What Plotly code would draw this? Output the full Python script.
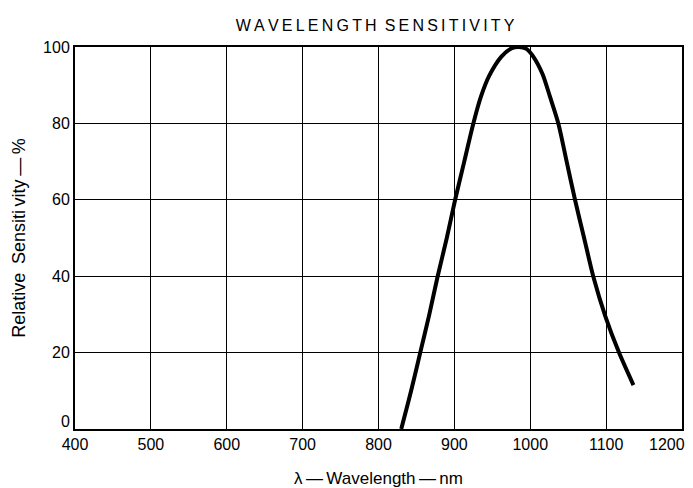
import plotly.graph_objects as go

wavelength_nm = [830, 843, 855, 867, 878, 890, 901, 913, 925, 935, 946, 962, 975, 985,
                 995, 1004, 1016, 1026, 1037, 1048, 1059, 1071, 1083, 1099, 1117, 1136]
rel_sensitivity = [0, 10, 20, 30, 40, 50, 60, 70, 80, 87, 92.5, 97.5, 99.6, 100,
                   99.5, 97.5, 93, 87, 80, 70, 60, 50, 40, 29.5, 20, 11.5]

x_ticks = [400, 500, 600, 700, 800, 900, 1000, 1100, 1200]
y_ticks = [20, 40, 60, 80, 100]
y_zero_label = "0"

FONT = "Liberation Sans, Arial, Helvetica, sans-serif"

# page body has an 8px margin: shrink the figure so it fits the 693x488 window
PAGE_OFF = 8

# last x label sits left of the frame edge (as in the reference): drawn as an annotation
x_ticktext = [str(v) for v in x_ticks[:-1]] + [""]

fig = go.Figure()
fig.add_trace(go.Scatter(
    x=wavelength_nm, y=rel_sensitivity, mode="lines",
    line=dict(color="black", width=4, shape="spline", smoothing=0.8),
    hoverinfo="skip", showlegend=False,
))

title_text = "\u2009".join("WAVELENGTH") + "\u2002" + "\u2009".join("SENSITIVITY")

fig.update_layout(
    width=693 - PAGE_OFF, height=488 - PAGE_OFF,
    margin=dict(l=75 - PAGE_OFF, r=11, t=47 - PAGE_OFF, b=59),
    paper_bgcolor="white", plot_bgcolor="white",
    font=dict(family=FONT, color="black", size=16),
    title=dict(text=title_text, x=0.536, xanchor="center", y=0.963, yanchor="middle",
               font=dict(family=FONT, size=16, color="black")),
)

fig.update_xaxes(
    range=[399.99, 1200.01], tickvals=x_ticks, ticktext=x_ticktext,
    showgrid=True, gridcolor="black", gridwidth=1,
    showline=True, linecolor="black", linewidth=2, mirror=True,
    ticks="", ticklen=0, zeroline=False, automargin=False,
    tickfont=dict(size=16),
    title=dict(text="λ\u2009\u2014\u2009Wavelength\u2009\u2014\u2009nm", standoff=20,
               font=dict(size=17)),
)
fig.update_yaxes(
    range=[0, 100], tickvals=y_ticks, ticktext=[str(v) for v in y_ticks],
    showgrid=True, gridcolor="black", gridwidth=1,
    showline=True, linecolor="black", linewidth=2, mirror=True,
    ticks="", ticklen=0, zeroline=False, automargin=False,
    tickfont=dict(size=16),
    title=dict(text="Relative\u2009 Sensiti\u2009vity\u2009\u2014\u2009%", standoff=13,
               font=dict(size=18)),
)

fig.add_annotation(
    x=0, xref="paper", y=0, yref="y", text=y_zero_label, showarrow=False,
    xanchor="right", yanchor="middle", xshift=-3, yshift=8,
    font=dict(family=FONT, size=16, color="black"),
)
fig.add_annotation(
    x=x_ticks[-1], xref="x", y=0, yref="paper", text=str(x_ticks[-1]), showarrow=False,
    xanchor="right", yanchor="middle", xshift=5, yshift=-15,
    font=dict(family=FONT, size=16, color="black"),
)

fig.write_html("out.html")
